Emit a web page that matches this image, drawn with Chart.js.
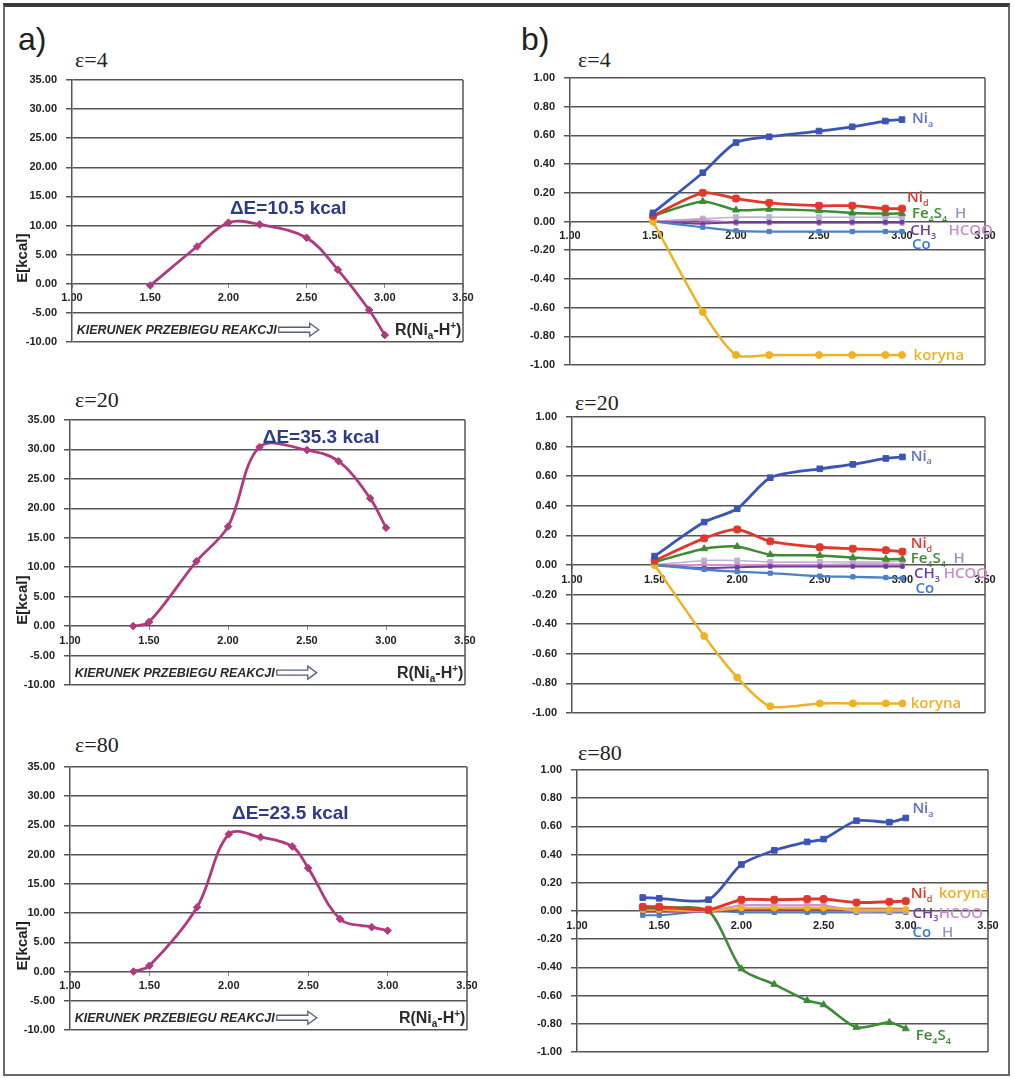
<!DOCTYPE html>
<html>
<head>
<meta charset="utf-8">
<title>Energia i ładunki wzdłuż ścieżki reakcji</title>
<script src="https://cdn.jsdelivr.net/npm/chart.js@4.4.1/dist/chart.umd.min.js"></script>
<style>
  html, body { margin: 0; padding: 0; background: #fff; }
  #fig { position: relative; width: 1015px; height: 1078px; overflow: hidden; background: #fff; }
  #frame { position: absolute; left: 3px; top: 3px; width: 1003px; height: 1067px;
           border: 2px solid #6a6a6a; border-top: 4px solid #3a3a3a; }
  .tag { position: absolute; font-family: "Liberation Sans", Arial, sans-serif; font-size: 32px;
         line-height: 1; color: #222; }
  .eps { position: absolute; font-family: "Liberation Serif", "Times New Roman", serif; font-size: 22px;
         line-height: 1; color: #222; white-space: nowrap; }
  canvas { position: absolute; }
</style>
</head>
<body>
<div id="fig">
  <div id="frame"></div>
  <div class="tag" style="left:18px;top:23px">a)</div>
  <div class="tag" style="left:521px;top:23px">b)</div>
  <div class="eps" style="left:75px;top:49px">ε=4</div>
  <div class="eps" style="left:578px;top:49px">ε=4</div>
  <div class="eps" style="left:75px;top:389px">ε=20</div>
  <div class="eps" style="left:575px;top:392px">ε=20</div>
  <div class="eps" style="left:75px;top:734px">ε=80</div>
  <div class="eps" style="left:578px;top:742px">ε=80</div>

  <canvas id="a4"  width="500" height="300" style="left:0px;top:60px"></canvas>
  <canvas id="a20" width="500" height="300" style="left:0px;top:400px"></canvas>
  <canvas id="a80" width="500" height="300" style="left:0px;top:747px"></canvas>
  <canvas id="b4"  width="505" height="320" style="left:505px;top:60px"></canvas>
  <canvas id="b20" width="505" height="330" style="left:505px;top:400px"></canvas>
  <canvas id="b80" width="505" height="320" style="left:505px;top:750px"></canvas>
</div>

<script>
// ---- a) energy along the reaction coordinate R(Ni_a-H+) ----
const rEps4  = [1.50, 1.80, 2.00, 2.20, 2.50, 2.70, 2.90, 3.00];
const eEps4  = [-0.3, 6.4, 10.5, 10.2, 7.9, 2.4, -4.5, -8.8];

const rEps20 = [1.40, 1.50, 1.80, 2.00, 2.20, 2.50, 2.70, 2.90, 3.00];
const eEps20 = [0.0, 0.7, 11.0, 16.9, 30.4, 29.9, 28.0, 21.7, 16.7];

const rEps80 = [1.40, 1.50, 1.80, 2.00, 2.20, 2.40, 2.50, 2.70, 2.90, 3.00];
const eEps80 = [0.0, 1.0, 11.0, 23.5, 23.0, 21.4, 17.7, 9.0, 7.6, 7.0];

const barrier = ['ΔE=10.5 kcal', 'ΔE=35.3 kcal', 'ΔE=23.5 kcal'];

// ---- b) charge changes of fragments ----
const rB4   = [1.50, 1.80, 2.00, 2.20, 2.50, 2.70, 2.90, 3.00];
const niA4  = [0.06, 0.34, 0.55, 0.59, 0.63, 0.66, 0.70, 0.71];
const niD4  = [0.04, 0.20, 0.16, 0.13, 0.11, 0.11, 0.09, 0.09];
const fes4  = [0.04, 0.14, 0.08, 0.085, 0.075, 0.06, 0.055, 0.055];
const h4    = [0.00, 0.02, 0.03, 0.03, 0.03, 0.03, 0.03, 0.03];
const ch3_4 = [0.00, -0.015, -0.005, -0.005, -0.005, -0.005, -0.005, -0.005];
const hcoo4 = [0.00, 0.01, -0.01, -0.01, -0.01, -0.01, -0.01, -0.01];
const co4   = [0.00, -0.04, -0.065, -0.07, -0.07, -0.07, -0.07, -0.07];
const kor4  = [0.00, -0.63, -0.93, -0.93, -0.93, -0.93, -0.93, -0.93];

const rB20   = [1.50, 1.80, 2.00, 2.20, 2.50, 2.70, 2.90, 3.00];
const niA20  = [0.06, 0.29, 0.38, 0.59, 0.65, 0.68, 0.72, 0.73];
const niD20  = [0.03, 0.18, 0.24, 0.16, 0.12, 0.11, 0.10, 0.09];
const fes20  = [0.02, 0.11, 0.125, 0.07, 0.065, 0.05, 0.04, 0.04];
const h20    = [0.00, 0.03, 0.03, 0.02, 0.02, 0.02, 0.02, 0.03];
const ch3_20 = [0.00, -0.02, -0.015, -0.01, -0.01, -0.01, -0.01, -0.01];
const hcoo20 = [0.00, 0.00, 0.00, 0.00, 0.00, 0.005, 0.005, 0.005];
const co20   = [0.00, -0.03, -0.045, -0.055, -0.075, -0.08, -0.085, -0.09];
const kor20  = [0.00, -0.48, -0.76, -0.955, -0.935, -0.935, -0.935, -0.935];

const rB80   = [1.40, 1.50, 1.80, 2.00, 2.20, 2.40, 2.50, 2.70, 2.90, 3.00];
const niA80  = [0.095, 0.09, 0.08, 0.33, 0.43, 0.49, 0.51, 0.64, 0.63, 0.66];
const niD80  = [0.03, 0.03, 0.01, 0.08, 0.08, 0.085, 0.085, 0.06, 0.065, 0.07];
const fes80  = [0.02, 0.02, 0.00, -0.41, -0.52, -0.635, -0.665, -0.825, -0.79, -0.835];
const kor80  = [0.01, 0.01, 0.00, 0.02, 0.02, 0.02, 0.02, 0.01, 0.01, 0.01];
const hcoo80 = [0.01, 0.01, 0.00, 0.04, 0.04, 0.04, 0.04, 0.00, 0.00, 0.00];
const ch3_80 = [0.00, 0.00, 0.00, 0.01, 0.01, 0.01, 0.01, 0.01, 0.01, 0.01];
const co80   = [-0.03, -0.03, 0.00, -0.01, -0.01, -0.01, -0.01, -0.01, -0.01, -0.01];
const h80    = [0.00, 0.00, 0.00, 0.00, 0.00, 0.00, 0.00, 0.00, 0.00, 0.00];

// axis ticks
const rTicks = { min: 1.0, max: 3.5, step: 0.5 };
const eTicks = { min: -10, max: 35, step: 5 };
const qTicks = { min: -1.0, max: 1.0, step: 0.2 };

// ---- colours ----
const C = {
  curve: '#b03a7e', niA: '#3b55b5', niD: '#e0392b', fes: '#3d8c35', kor: '#efb223',
  co: '#4d80c6', ch3: '#6b3fa0', hcoo: '#d58fc9', h: '#bab4cf',
  grid: '#555555', tick: '#222222', dE: '#2f3a86'
};

// draw text with _x subscripts and ^x superscripts
function parseRich(str) {
  const parts = [];
  let buf = '';
  for (let i = 0; i < str.length; i++) {
    const ch = str[i];
    if ((ch === '_' || ch === '^') && i + 1 < str.length) {
      if (buf) { parts.push({ t: buf }); buf = ''; }
      parts.push({ t: str[i + 1], s: ch === '_' ? 'sub' : 'sup' });
      i++;
    } else buf += ch;
  }
  if (buf) parts.push({ t: buf });
  return parts;
}
function drawRich(ctx, str, x, yMid, size, family, weight, style, color, align) {
  const parts = parseRich(str);
  const fontFor = p => `${style} ${weight} ${p.s ? Math.round(size * 0.62) : size}px ${family}`;
  let w = 0;
  parts.forEach(p => { ctx.font = fontFor(p); w += ctx.measureText(p.t).width; });
  let cx = align === 'right' ? x - w : (align === 'center' ? x - w / 2 : x);
  const base = yMid + size * 0.35;
  ctx.fillStyle = color;
  ctx.textAlign = 'left';
  ctx.textBaseline = 'alphabetic';
  parts.forEach(p => {
    ctx.font = fontFor(p);
    const dy = p.s === 'sub' ? size * 0.25 : (p.s === 'sup' ? -size * 0.42 : 0);
    ctx.fillText(p.t, cx, base + dy);
    cx += ctx.measureText(p.t).width;
  });
  return cx;
}

// hollow block arrow used after the reaction-direction caption
function hollowArrow(ctx, x0, y, len) {
  const bodyH = 2.5, headH = 6.5, headL = 9;
  ctx.save();
  ctx.beginPath();
  ctx.moveTo(x0, y - bodyH);
  ctx.lineTo(x0 + len - headL, y - bodyH);
  ctx.lineTo(x0 + len - headL, y - headH);
  ctx.lineTo(x0 + len, y);
  ctx.lineTo(x0 + len - headL, y + headH);
  ctx.lineTo(x0 + len - headL, y + bodyH);
  ctx.lineTo(x0, y + bodyH);
  ctx.closePath();
  ctx.fillStyle = '#fff';
  ctx.fill();
  ctx.strokeStyle = '#55607a';
  ctx.lineWidth = 1.3;
  ctx.stroke();
  ctx.restore();
}

// per-chart overlay: plot frame on the right, captions and series names
function overlay(items) {
  return {
    id: 'overlay',
    beforeDatasetsDraw(chart) {
      const { ctx, chartArea: a } = chart;
      ctx.save();
      ctx.strokeStyle = C.grid;
      ctx.lineWidth = 1.5;
      ctx.beginPath();
      ctx.moveTo(a.right, a.top);
      ctx.lineTo(a.right, a.bottom);
      ctx.stroke();
      ctx.restore();
    },
    afterDatasetsDraw(chart) {
      const { ctx, scales: { x, y } } = chart;
      ctx.save();
      items.forEach(it => {
        const px = it.px != null ? it.px : x.getPixelForValue(it.x);
        const py = y.getPixelForValue(it.y);
        if (it.kind === 'ytitle') {
          ctx.save();
          ctx.translate(px, py);
          ctx.rotate(-Math.PI / 2);
          ctx.font = 'bold 15px "Liberation Sans", Arial, sans-serif';
          ctx.fillStyle = '#222';
          ctx.textAlign = 'center';
          ctx.textBaseline = 'middle';
          ctx.fillText(it.text, 0, 0);
          ctx.restore();
        } else if (it.kind === 'dir') {
          const end = drawRich(ctx, it.text, px, py, 12.5, '"Liberation Sans", Arial, sans-serif', 'bold', 'italic', '#2a2a2a', 'left');
          hollowArrow(ctx, end + 2, py, 40);
        } else {
          drawRich(ctx, it.text, px, py, it.size, it.family, it.weight, 'normal', it.color, it.align || 'left');
        }
      });
      ctx.restore();
    }
  };
}

const tickFont = { family: '"Liberation Sans", Arial, sans-serif', weight: 'bold', size: 11 };

function yAxis(t, width) {
  return {
    type: 'linear', min: t.min, max: t.max,
    ticks: { stepSize: t.step, color: C.tick, font: tickFont, padding: 9,
             callback: v => Number(v).toFixed(2) },
    grid: { color: C.grid, lineWidth: 1.5, tickLength: 6 },
    border: { display: true, color: C.grid, width: 1.5 },
    afterFit(s) { s.width = width; s.paddingTop = 0; s.paddingBottom = 0; }
  };
}
function xAxis(t) {
  return {
    type: 'linear', min: t.min, max: t.max, position: { y: 0 },
    ticks: { stepSize: t.step, color: C.tick, font: tickFont, padding: 4, maxRotation: 0, autoSkip: false,
             callback: v => Number(v).toFixed(2) },
    grid: { drawOnChartArea: false, color: '#8a8a8a', lineWidth: 1, tickLength: 4 },
    border: { display: false },
    afterFit(s) { s.height = 0; s.paddingLeft = 0; s.paddingRight = 0; }
  };
}
function pts(xs, ys) { return xs.map((v, i) => ({ x: v, y: ys[i] })); }

function build(id, datasets, yT, yWidth, pad, items) {
  new Chart(document.getElementById(id), {
    type: 'line',
    data: { datasets },
    options: {
      responsive: false, animation: false, events: [],
      layout: { padding: pad },
      plugins: { legend: { display: false }, tooltip: { enabled: false } },
      scales: { x: xAxis(rTicks), y: yAxis(yT, yWidth) }
    },
    plugins: [overlay(items)]
  });
}

// ---- a) panels ----
function energySet(xs, ys) {
  return [{
    data: pts(xs, ys), borderColor: C.curve, backgroundColor: C.curve,
    borderWidth: 2.8, pointStyle: 'rectRot', pointRadius: 3.8, pointBorderWidth: 1, tension: 0.35
  }];
}
const sansBold = '"Liberation Sans", Arial, sans-serif';
function energyNotes(dEx, dEy, text) {
  return [
    { kind: 'ytitle', text: 'E[kcal]', px: 23, y: 4.4 },
    { text, x: dEx, y: dEy, size: 19, family: sansBold, weight: 'bold', color: C.dE },
    { kind: 'dir', text: 'KIERUNEK PRZEBIEGU REAKCJI', x: 1.03, y: -7.9 },
    { text: 'R(Ni_a-H^+)', x: 3.49, y: -7.9, size: 16, family: sansBold, weight: 'bold', color: '#2a2a2a', align: 'right' }
  ];
}
build('a4',  energySet(rEps4, eEps4),   eTicks, 72, { top: 20, bottom: 18, left: 0, right: 37 }, energyNotes(2.01, 13.2, barrier[0]));
build('a20', energySet(rEps20, eEps20), eTicks, 70, { top: 20, bottom: 15, left: 0, right: 35 }, energyNotes(2.22, 32.3, barrier[1]));
build('a80', energySet(rEps80, eEps80), eTicks, 70, { top: 20, bottom: 17, left: 0, right: 33 }, energyNotes(2.02, 27.3, barrier[2]));

// ---- b) panels ----
function line(xs, ys, color, style, radius, width) {
  return {
    data: pts(xs, ys), borderColor: color, backgroundColor: color,
    borderWidth: width, pointStyle: style, pointRadius: radius, pointBorderWidth: 1, tension: 0.25
  };
}
const lblFont = '"Open Sans", Lato, sans-serif';
function name(text, x, y, color) {
  return { text, x, y, size: 15, family: lblFont, weight: '600', color };
}

build('b4', [
  line(rB4, niA4, C.niA, 'rect', 4, 2.8),
  line(rB4, niD4, C.niD, 'rectRounded', 4, 2.8),
  line(rB4, fes4, C.fes, 'triangle', 4, 2.5),
  line(rB4, kor4, C.kor, 'circle', 3.5, 2.5),
  line(rB4, co4, C.co, 'rect', 3, 2.2),
  line(rB4, ch3_4, C.ch3, 'rect', 2.5, 2.0),
  line(rB4, hcoo4, C.hcoo, 'rect', 3, 2.0),
  line(rB4, h4, C.h, 'rect', 3.5, 1.6)
], qTicks, 65, { top: 18, bottom: 15, left: 0, right: 25 }, [
  name('Ni_a', 3.06, 0.72, '#5b6fd6'),
  name('Ni_d', 3.03, 0.17, C.niD),
  name('Fe_4S_4', 3.06, 0.06, C.fes),
  name('H', 3.32, 0.06, '#9a94b8'),
  name('CH_3', 3.05, -0.06, C.ch3),
  name('HCOO', 3.28, -0.06, '#c98ec9'),
  name('Co', 3.06, -0.155, '#3a78d8'),
  name('koryna', 3.07, -0.93, C.kor)
]);

build('b20', [
  line(rB20, niA20, C.niA, 'rect', 4, 2.8),
  line(rB20, niD20, C.niD, 'rectRounded', 4, 2.8),
  line(rB20, fes20, C.fes, 'triangle', 4, 2.5),
  line(rB20, kor20, C.kor, 'circle', 3.5, 2.5),
  line(rB20, co20, C.co, 'rect', 3, 2.4),
  line(rB20, ch3_20, C.ch3, 'rect', 2.5, 2.0),
  line(rB20, hcoo20, C.hcoo, 'rect', 3, 2.0),
  line(rB20, h20, C.h, 'rect', 3.5, 1.6)
], qTicks, 67, { top: 17, bottom: 17, left: 0, right: 25 }, [
  name('Ni_a', 3.05, 0.74, '#5b6fd6'),
  name('Ni_d', 3.05, 0.15, C.niD),
  name('Fe_4S_4', 3.05, 0.05, C.fes),
  name('H', 3.31, 0.05, '#9a94b8'),
  name('CH_3', 3.07, -0.055, C.ch3),
  name('HCOO', 3.25, -0.055, '#c98ec9'),
  name('Co', 3.08, -0.155, '#3a78d8'),
  name('koryna', 3.05, -0.93, C.kor)
]);

build('b80', [
  line(rB80, niA80, C.niA, 'rect', 4, 2.8),
  line(rB80, niD80, C.niD, 'rectRounded', 4, 3.0),
  line(rB80, fes80, C.fes, 'triangle', 4, 2.6),
  line(rB80, kor80, C.kor, 'circle', 3, 2.2),
  line(rB80, hcoo80, C.hcoo, 'rect', 3.5, 2.4),
  line(rB80, ch3_80, '#9a4a5a', 'rect', 3, 3.5),
  line(rB80, co80, C.co, 'rect', 3, 2.0),
  line(rB80, h80, C.h, 'rect', 3, 1.6)
], qTicks, 72, { top: 20, bottom: 18, left: 0, right: 22 }, [
  name('Ni_a', 3.04, 0.73, '#5b6fd6'),
  name('Ni_d', 3.03, 0.13, C.niD),
  name('koryna', 3.20, 0.13, C.kor),
  name('CH_3', 3.04, -0.01, C.ch3),
  name('HCOO', 3.20, -0.01, '#c98ec9'),
  name('Co', 3.04, -0.15, '#3a78d8'),
  name('H', 3.22, -0.15, '#9a94b8'),
  name('Fe_4S_4', 3.06, -0.88, C.fes)
]);
</script>
</body>
</html>
